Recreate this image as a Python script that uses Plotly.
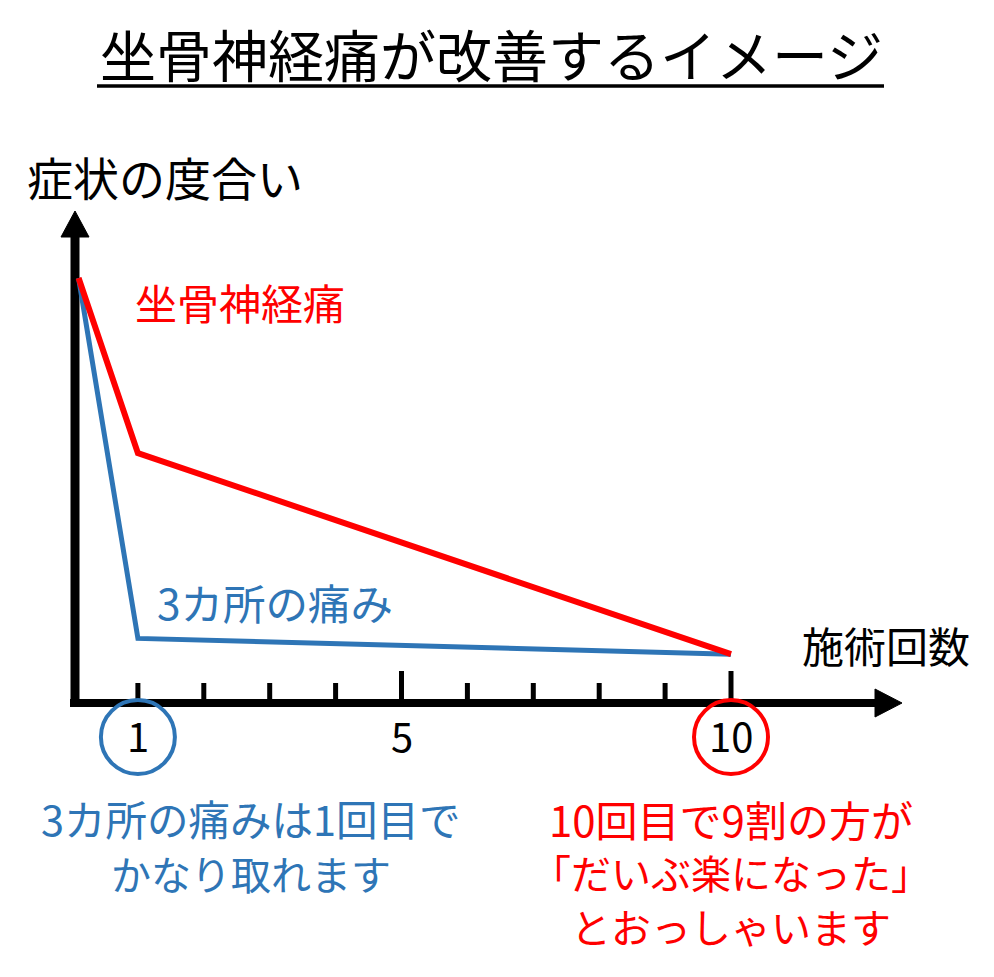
import plotly.graph_objects as go

# ---------------- data ----------------
sessions = [0.1, 1, 10]
sciatica_level = [10.0, 5.88, 1.15]
three_sites_level = [10.0, 1.52, 1.15]
tick_values = [1, 2, 3, 4, 5, 6, 7, 8, 9, 10]
major_ticks = [5, 10]
tick_label_values = [1, 5, 10]
tick_label_text = ["1", "5", "10"]

title_text = "坐骨神経痛が改善するイメージ"
y_axis_title = "症状の度合い"
x_axis_title = "施術回数"
red_label = "坐骨神経痛"
blue_label = "3カ所の痛み"
blue_note = ["3カ所の痛みは1回目で", "かなり取れます"]
red_note = ["10回目で9割の方が", "「だいぶ楽になった」", "とおっしゃいます"]

RED = "#FF0000"
BLUE = "#2E75B6"
BLACK = "#000000"
FONT = "Noto Sans CJK JP"

# ---------------- layout geometry (page pixels) ----------------
PAGE_W, PAGE_H = 994, 977
OFF = 8  # default page body margin in which the figure sits
W, H = PAGE_W - OFF, PAGE_H - OFF
X0_PX, X_UNIT = 72.0 - OFF, 65.9
Y0_PX, Y_UNIT = 703.0 - OFF, 42.5


def dx(px):
    return (px - OFF - X0_PX) / X_UNIT


def dy(py):
    return (Y0_PX - (py - OFF)) / Y_UNIT


def fx(px):
    return (px - OFF) / W


def fy(py):
    return 1 - (py - OFF) / H


fig = go.Figure()

fig.add_trace(go.Scatter(x=sessions, y=three_sites_level, mode="lines",
                         line=dict(color=BLUE, width=5), hoverinfo="skip",
                         showlegend=False))
fig.add_trace(go.Scatter(x=sessions, y=sciatica_level, mode="lines",
                         line=dict(color=RED, width=6), hoverinfo="skip",
                         showlegend=False))

shapes = []
# x axis line + arrow head
shapes.append(dict(type="line", xref="x", yref="y", x0=dx(70), x1=dx(877), y0=0, y1=0,
                   line=dict(color=BLACK, width=8), layer="below"))
shapes.append(dict(type="path", xref="x", yref="y",
                   path=f"M {dx(875)} {dy(689)} L {dx(902)} {dy(703)} L {dx(875)} {dy(717)} Z",
                   fillcolor=BLACK, line=dict(color=BLACK, width=1), layer="below"))
# y axis line + arrow head
shapes.append(dict(type="line", xref="x", yref="y", x0=dx(75), x1=dx(75), y0=dy(707), y1=dy(235),
                   line=dict(color=BLACK, width=9), layer="below"))
shapes.append(dict(type="path", xref="x", yref="y",
                   path=f"M {dx(61)} {dy(237)} L {dx(75)} {dy(211)} L {dx(89)} {dy(237)} Z",
                   fillcolor=BLACK, line=dict(color=BLACK, width=1), layer="below"))
# ticks
for t in tick_values:
    top = 671 if t in major_ticks else 683
    shapes.append(dict(type="line", xref="x", yref="y", x0=t, x1=t, y0=0, y1=dy(top),
                       line=dict(color=BLACK, width=5), layer="below"))
# circles around 1 and 10
for t, c in [(1, BLUE), (10, RED)]:
    shapes.append(dict(type="circle", xref="x", yref="y", xsizemode="pixel", ysizemode="pixel",
                       xanchor=t, yanchor=dy(737), x0=-37, x1=37, y0=-37, y1=37,
                       line=dict(color=c, width=4)))
# title underline
shapes.append(dict(type="line", xref="paper", yref="paper", x0=fx(97), x1=fx(884),
                   y0=fy(86), y1=fy(86), line=dict(color=BLACK, width=3.5)))

ann = []


def add_text(text, xpx, ypx, size, color, xanchor="center"):
    ann.append(dict(text=text, x=fx(xpx), y=fy(ypx), xref="paper", yref="paper",
                    xanchor=xanchor, yanchor="middle", showarrow=False,
                    font=dict(family=FONT, size=size, color=color)))


add_text(title_text, 491, 53, 56, BLACK)
add_text(y_axis_title, 25, 176, 46, BLACK, "left")
add_text(red_label, 133, 301, 42, RED, "left")
add_text(blue_label, 155, 601, 42.5, BLUE, "left")
add_text(x_axis_title, 800, 644, 42, BLACK, "left")

for v, t in zip(tick_label_values, tick_label_text):
    ann.append(dict(text=t, x=v, y=dy(735), xref="x", yref="y", xanchor="center",
                    yanchor="middle", showarrow=False,
                    font=dict(family=FONT, size=40, color=BLACK)))

blue_sizes = [41.5, 40]
for i, line in enumerate(blue_note):
    add_text(line, 251, 818 + i * 55, blue_sizes[i], BLUE)
red_sizes = [42, 40, 40]
for i, line in enumerate(red_note):
    add_text(line, 731, 818 + i * 54, red_sizes[i], RED)

fig.update_layout(
    width=W, height=H, autosize=False,
    margin=dict(l=0, r=0, t=0, b=0, pad=0),
    paper_bgcolor="white", plot_bgcolor="white",
    xaxis=dict(range=[dx(OFF), dx(PAGE_W)], visible=False, fixedrange=True),
    yaxis=dict(range=[dy(PAGE_H), dy(OFF)], visible=False, fixedrange=True),
    shapes=shapes, annotations=ann, showlegend=False,
)

fig.write_html("out.html")
